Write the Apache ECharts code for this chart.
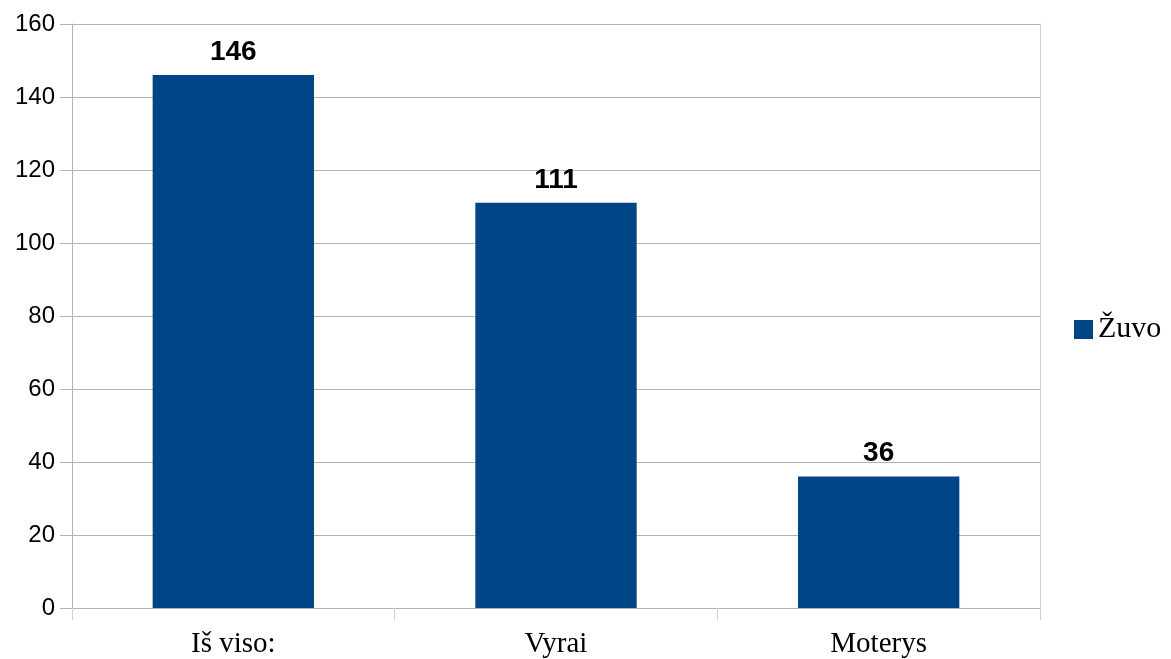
<!DOCTYPE html>
<html><head><meta charset="utf-8">
<script src="https://cdn.jsdelivr.net/npm/echarts@6/dist/echarts.min.js"></script>
<style>html,body{margin:0;padding:0;background:#fff}#c{width:1171px;height:659px}</style>
</head><body><div id="c"></div>
<script>
const categories = ['Iš viso:', 'Vyrai', 'Moterys'];
const seriesName = 'Žuvo';
const values = [146, 111, 36];
const yTicks = {min: 0, max: 160, interval: 20};

const chart = echarts.init(document.getElementById('c'));
chart.setOption({
  animation: false,
  grid: {left: 72, right: 131, top: 24, bottom: 51, containLabel: false},
  legend: {
    data: [seriesName], orient: 'vertical', left: 1074, top: 'middle',
    itemWidth: 19, itemHeight: 19, itemGap: 6, icon: 'rect', padding: 0,
    textStyle: {fontFamily: 'Liberation Serif', fontSize: 30, color: '#000'}
  },
  xAxis: {
    type: 'category', data: categories,
    axisLine: {lineStyle: {color: '#b3b3b3', width: 1}},
    axisTick: {show: true, length: 12, alignWithLabel: false, lineStyle: {color: '#d0d0d0', width: 1}},
    axisLabel: {fontFamily: 'Liberation Serif', fontSize: 29, color: '#000', margin: 22}
  },
  yAxis: [{
    type: 'value', min: yTicks.min, max: yTicks.max, interval: yTicks.interval,
    axisLine: {show: true, lineStyle: {color: '#b3b3b3'}},
    axisTick: {show: true, length: 12, lineStyle: {color: '#b3b3b3'}},
    splitLine: {lineStyle: {color: '#b3b3b3'}},
    axisLabel: {fontFamily: 'Liberation Sans', fontSize: 24, color: '#000', margin: 17}
  }, {
    type: 'value', position: 'right', min: yTicks.min, max: yTicks.max, interval: yTicks.interval,
    axisLine: {show: true, lineStyle: {color: '#d0d0d0'}},
    axisTick: {show: false}, axisLabel: {show: false}, splitLine: {show: false}
  }],
  series: [{
    name: seriesName, type: 'bar', data: values, barWidth: '50%',
    itemStyle: {color: '#004586'},
    label: {show: true, position: 'top', distance: 9, fontFamily: 'Liberation Sans', fontWeight: 'bold', fontSize: 28, color: '#000'}
  }]
});
</script></body></html>
